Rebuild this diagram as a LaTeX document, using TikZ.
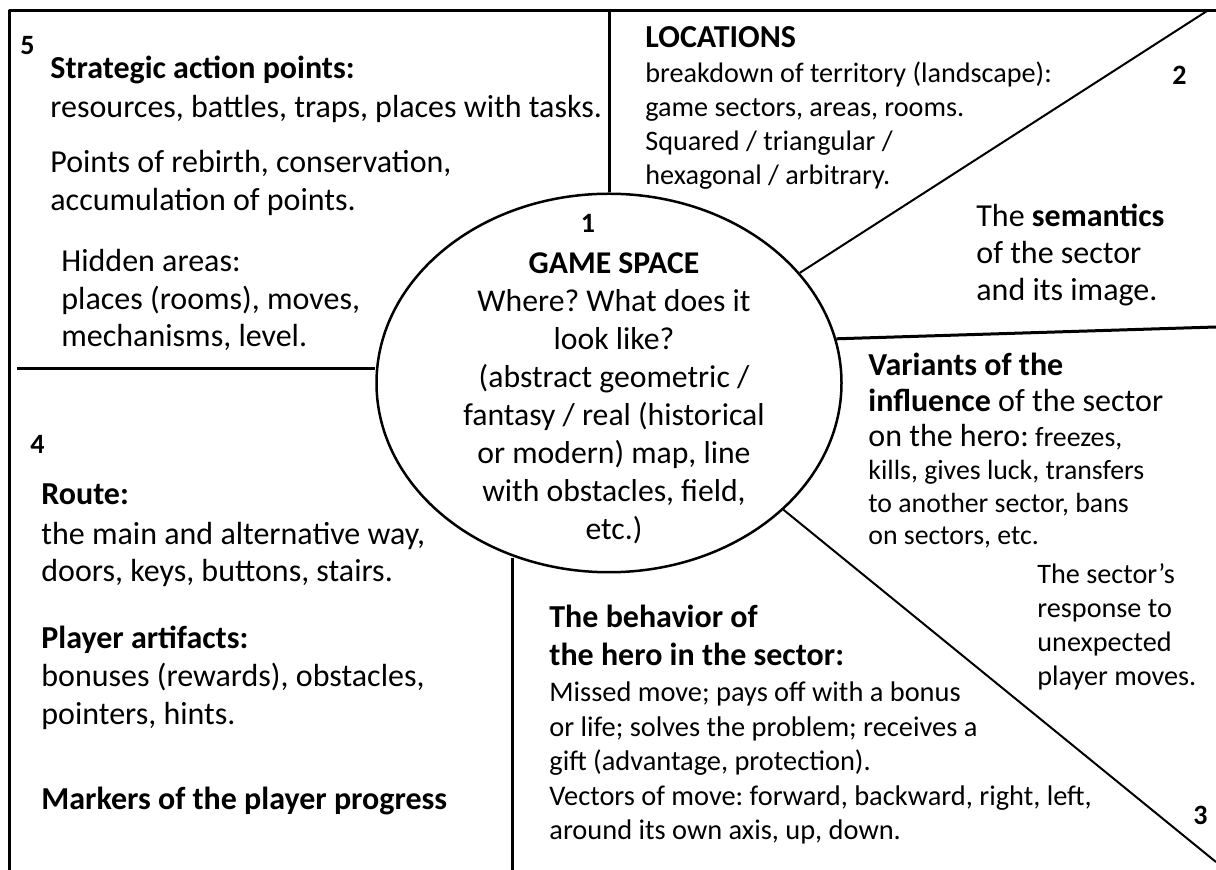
\documentclass[tikz,border=0pt]{standalone}
\usepackage{fontspec}
\setmainfont{Carlito}
\usetikzlibrary{shapes.geometric,positioning}
\newcommand{\mainsz}{\fontsize{16pt}{19pt}\selectfont}
\newcommand{\smallsz}{\fontsize{14.1pt}{17pt}\selectfont}
\newcommand{\respsz}{\fontsize{13.9pt}{16.5pt}\selectfont}
\newcommand{\numsz}{\fontsize{14pt}{17pt}\selectfont\bfseries}

\begin{document}
\frenchspacing
\begin{tikzpicture}[x=0.5pt, y=-0.5pt, line join=round]
\tikzstyle{frame}=[line width=1.5pt]
\tikzstyle{cut}=[line width=1pt]
\tikzstyle{txt}=[inner sep=0pt, anchor=base west, align=flush left, text width=300pt, font=\mainsz]
\tikzstyle{num}=[inner sep=0pt, anchor=base west, font=\numsz]
\useasboundingbox (0,0) rectangle (1216,870);

\node[ellipse, draw, line width=1.25pt, minimum width=232.5pt, minimum height=189.25pt, inner sep=0pt] (space) at (609,383) {};
\node[align=center, inner sep=0pt, font=\fontsize{15.85pt}{19pt}\selectfont] (spacetxt) at (614,379.5)
  {{\numsz 1}\hspace*{26pt}\\[1.5pt] \textbf{GAME SPACE}\\ Where? What does it\\ look like?\\ (abstract geometric /\\
   fantasy / real (historical\\ or modern) map, line\\ with obstacles, field,\\ etc.)};

\coordinate (tl) at (9,11);
\coordinate (tr) at (1216,11);
\coordinate (bl) at (9,870);
\coordinate (lft) at (17,369);
\coordinate (rgt) at (1216,327);
\coordinate (c2) at (1207,11);
\coordinate (c3) at (1216,862);
\coordinate (bot) at (512,870);

\draw[frame] (bl) -- (tl) -- (tr);
\draw[frame] (space.north) -- (space.north |- tl);
\draw[frame] (lft) -- (lft -| space.west);
\draw[frame] (bot) -- (bot |- space.242);
\draw[frame] (space.11) -- (rgt);
\draw[cut] (space.30) -- (c2);
\draw[cut] (space.-36) -- (c3);

\node[num] (n5) at (20,55) {5};
\node[txt] (act5) at (50,79) {\textbf{Strategic action points:}\\[0.5pt] resources, battles, traps, places with tasks.\\[8.5pt]
  Points of rebirth, conservation,\\ accumulation of points.};
\node[txt, font=\fontsize{16pt}{18.75pt}\selectfont] (hide5) at (61,272) {Hidden areas:\\ places (rooms), moves,\\ mechanisms, level.};

\node[txt, font=\smallsz] (loc) at (645,48) {{\mainsz\bfseries LOCATIONS}\\[0.5pt] breakdown of territory (landscape):\\
  game sectors, areas, rooms.\\ Squared / triangular /\\ hexagonal / arbitrary.};
\node[num] (n2) at (1172,85) {2};
\node[txt] (sem) at (976,227) {The \textbf{semantics}\\[-0.5pt] of the sector\\[-0.5pt] and its image.};

\node[txt, font=\respsz] (infl) at (868,376) {{\mainsz\bfseries Variants of the}\\[1.5pt] {\mainsz\textbf{influence} of the sector}\\[1pt]
  {\mainsz on the hero:} freezes,\\ kills, gives luck, transfers\\ to another sector, bans\\[-0.5pt] on sectors, etc.};
\node[txt, font=\fontsize{14.1pt}{17pt}\selectfont] (resp) at (1037,584) {The sector’s\\ response to\\ unexpected\\ player moves.};
\node[num] (n3) at (1193,825) {3};

\node[num] (n4) at (30,454) {4};
\node[txt] (route4) at (41,505) {\textbf{Route:}\\[1pt] the main and alternative way,\\[-0.5pt] doors, keys, buttons, stairs.};
\node[txt] (art4) at (41,649) {\textbf{Player artifacts:}\\ bonuses (rewards), obstacles,\\ pointers, hints.};
\node[txt] (mark4) at (41,810) {\textbf{Markers of the player progress}};

\node[txt, font=\fontsize{14.2pt}{17.25pt}\selectfont] (behav) at (549,628) {{\mainsz\bfseries The behavior of}\\[1.75pt] {\mainsz\bfseries the hero in the sector:}\\[0.75pt]
  Missed move; pays off with a bonus\\ or life; solves the problem; receives a\\ gift (advantage, protection).\\
  Vectors of move: forward, backward, right, left,\\ around its own axis, up, down.};
\end{tikzpicture}
\end{document}
